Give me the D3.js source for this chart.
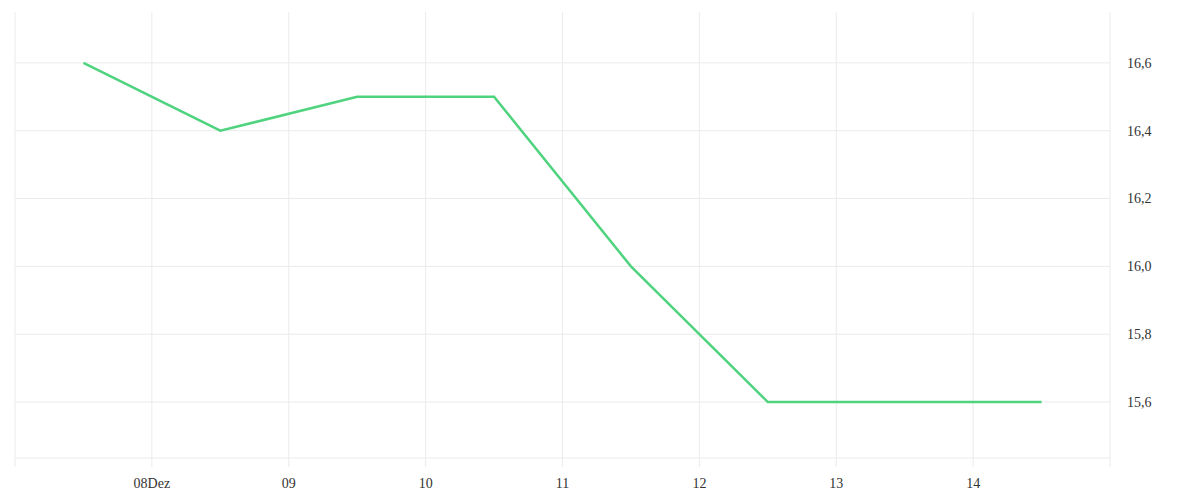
<!DOCTYPE html>
<html>
<head>
<meta charset="utf-8">
<script src="https://cdn.jsdelivr.net/npm/d3@7"></script>
<style>
  body { margin: 0; background: #fff; }
  svg text { font-family: "Liberation Serif", serif; font-size: 14px; fill: #333; }
</style>
</head>
<body>
<div id="chart"></div>
<script>
// Tageswerte (Mittag), Dezember
const dates = ["2023-12-07T12:00", "2023-12-08T12:00", "2023-12-09T12:00", "2023-12-10T12:00",
  "2023-12-11T12:00", "2023-12-12T12:00", "2023-12-13T12:00", "2023-12-14T12:00"];
const values = [16.6, 16.4, 16.5, 16.5, 16.0, 15.6, 15.6, 15.6];
const yTicks = [15.6, 15.8, 16.0, 16.2, 16.4, 16.6];
const xTicks = ["2023-12-08", "2023-12-09", "2023-12-10", "2023-12-11", "2023-12-12", "2023-12-13", "2023-12-14"];

const width = 1200;
const height = 500;
const plotLeft = 15, plotRight = 1110, plotTop = 12, plotBottom = 458;

const parse = d3.timeParse("%Y-%m-%dT%H:%M");
const parseDay = d3.timeParse("%Y-%m-%d");
const data = dates.map((d, i) => ({ date: parse(d), value: values[i] }));

const x = d3.scaleTime()
  .domain([parseDay("2023-12-07"), parseDay("2023-12-15")])
  .range([plotLeft, plotRight]);

const y = d3.scaleLinear()
  .domain([15.435, 16.75])
  .range([plotBottom, plotTop]);

const svg = d3.select("#chart").append("svg")
  .attr("width", width)
  .attr("height", height);

const grid = "#ebebeb";

// horizontale Gitterlinien
svg.append("g")
  .selectAll("line")
  .data(yTicks)
  .join("line")
  .attr("x1", plotLeft)
  .attr("x2", plotRight)
  .attr("y1", d => y(d))
  .attr("y2", d => y(d))
  .attr("stroke", grid);

// vertikale Gitterlinien inkl. Rand
const vLines = [x.domain()[0]].concat(xTicks.map(parseDay));
svg.append("g")
  .selectAll("line")
  .data(vLines)
  .join("line")
  .attr("x1", d => x(d))
  .attr("x2", d => x(d))
  .attr("y1", plotTop)
  .attr("y2", plotBottom + 9)
  .attr("stroke", grid);

svg.append("line")
  .attr("x1", plotRight).attr("x2", plotRight)
  .attr("y1", plotTop).attr("y2", plotBottom + 9)
  .attr("stroke", grid);

svg.append("line")
  .attr("x1", plotLeft).attr("x2", plotRight)
  .attr("y1", plotBottom).attr("y2", plotBottom)
  .attr("stroke", grid);

// x-Beschriftung
svg.append("g")
  .selectAll("text")
  .data(xTicks)
  .join("text")
  .attr("x", d => x(parseDay(d)))
  .attr("y", 488)
  .attr("text-anchor", "middle")
  .text((d, i) => i === 0 ? d3.timeFormat("%d")(parseDay(d)) + "Dez" : d3.timeFormat("%d")(parseDay(d)));

// y-Beschriftung
svg.append("g")
  .selectAll("text")
  .data(yTicks)
  .join("text")
  .attr("x", 1127)
  .attr("y", d => y(d))
  .attr("dy", "0.35em")
  .text(d => d.toFixed(1).replace(".", ","));

const line = d3.line()
  .x(d => x(d.date))
  .y(d => y(d.value));

svg.append("path")
  .datum(data)
  .attr("fill", "none")
  .attr("stroke", "#4fd37f")
  .attr("stroke-width", 2.5)
  .attr("d", line);
</script>
</body>
</html>
